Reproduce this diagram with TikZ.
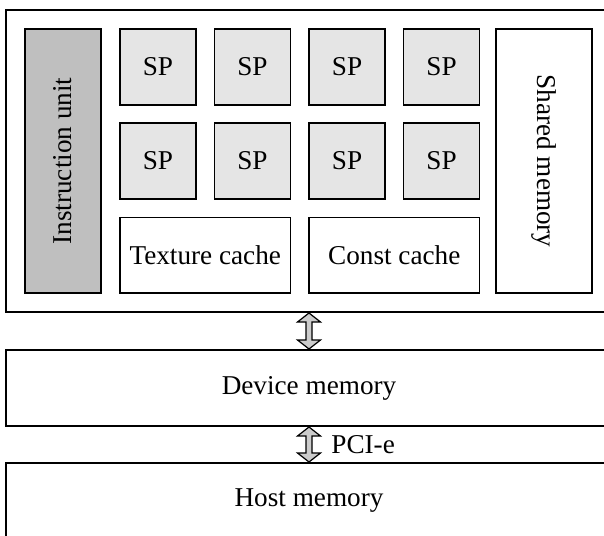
\documentclass[tikz,border=0pt]{standalone}
\usepackage{fontspec}
\setmainfont{Liberation Serif}
\usetikzlibrary{positioning,calc}

\tikzset{
  blk/.style={draw, line width=0.8pt, inner sep=0pt, font=\fontsize{13.6}{16}\selectfont},
  spbox/.style={blk, fill=black!10, minimum width=38pt, minimum height=38pt},
  cachebox/.style={blk, minimum width=85.25pt, minimum height=37.75pt},
  membox/.style={blk, line width=1pt, minimum width=303pt, minimum height=38pt},
  fatarrow/.style={draw, line width=0.6pt, fill=black!20, line join=miter}
}
\newcommand{\busarrow}[2]{%
  \draw[fatarrow] let \p1=(#1), \p2=(#2) in
    (\x1,\y1) -- (\x1+5.75pt,\y1-4.5pt) -- (\x1+1.5pt,\y1-4.5pt) -- (\x1+1.5pt,\y2+4.5pt)
    -- (\x1+5.75pt,\y2+4.5pt) -- (\x1,\y2) -- (\x1-5.75pt,\y2+4.5pt) -- (\x1-1.5pt,\y2+4.5pt)
    -- (\x1-1.5pt,\y1-4.5pt) -- (\x1-5.75pt,\y1-4.5pt) -- cycle;}

\begin{document}
\begin{tikzpicture}[x=0.5pt,y=-0.5pt]
\useasboundingbox (0,0) rectangle (604,535);
\clip (0,0) rectangle (604,535);

% multiprocessor
\node[membox, minimum height=151pt] (gpu) at (309,161) {};
\node[blk, fill=black!25, minimum width=132pt, minimum height=38pt, rotate=90] (iu) at (63,161) {Instruction unit};
\foreach \c/\x in {1/158,2/252.5,3/347,4/441.5}
  \foreach \r/\y in {1/67,2/161}
    \node[spbox] (sp\r\c) at (\x,\y) {SP};
\node[cachebox] (tex) at (205.25,255.25) {Texture cache};
\node[cachebox] (const) at (394.25,255.25) {Const cache};
\node[blk, minimum width=132pt, minimum height=48pt, rotate=-90] (shm) at (544,161) {Shared memory};

% memories
\node[membox] (dev) at (309,388) {Device memory};
\node[membox] (host) at (309,501) {Host memory};

\busarrow{gpu.south}{dev.north}
\busarrow{dev.south}{host.north}
\node[anchor=west, xshift=11pt, font=\fontsize{13.6}{16}\selectfont, inner sep=0pt] (pci) at ($(dev.south)!0.5!(host.north)$) {PCI-e};
\end{tikzpicture}
\end{document}
